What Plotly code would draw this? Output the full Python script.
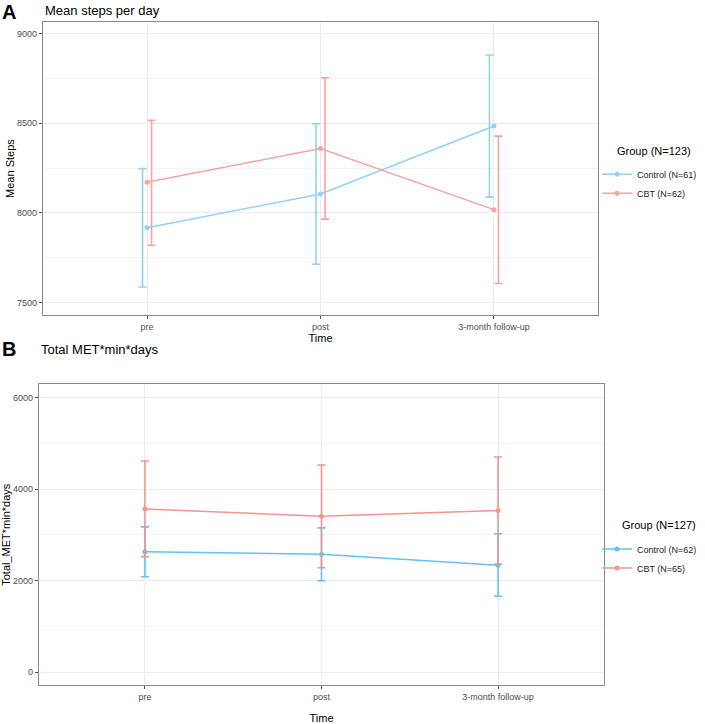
import plotly.graph_objects as go

# shared categories
times = ["pre", "post", "3-month follow-up"]
pos = [1, 2, 3]

# panel A: mean steps per day
steps_control = [7917, 8105, 8485]
steps_control_lo = [7586, 7713, 8088]
steps_control_hi = [8247, 8497, 8881]
steps_cbt = [8171, 8359, 8018]
steps_cbt_lo = [7819, 7965, 7606]
steps_cbt_hi = [8517, 8754, 8428]

# panel B: total MET*min*days
met_control = [2633, 2577, 2338]
met_control_lo = [2085, 1998, 1657]
met_control_hi = [3176, 3154, 3024]
met_cbt = [3566, 3408, 3531]
met_cbt_lo = [2525, 2280, 2360]
met_cbt_hi = [4616, 4529, 4703]

W, H = 705, 724
FONT = "Liberation Sans, Arial, sans-serif"
BLUE_A, RED_A = "#92d2f4", "#f5a4a1"
BLUE_B, RED_B = "#5ec4f0", "#f2948f"


def px_x(v):
    return v / W


def px_y(v):
    return 1 - v / H


def add_group(fig, xa, ya, legend, name, means, lo, hi, color, dodge):
    # error bars (dodged a little in panel A)
    fig.add_trace(go.Scatter(
        x=[p + dodge for p in pos], y=means, mode="markers",
        marker=dict(size=1, color="rgba(0,0,0,0)"),
        error_y=dict(type="data", symmetric=False,
                     array=[h - m for h, m in zip(hi, means)],
                     arrayminus=[m - l for m, l in zip(means, lo)],
                     color=color, thickness=1.6, width=4),
        xaxis=xa, yaxis=ya, showlegend=False, hoverinfo="skip",
    ))
    fig.add_trace(go.Scatter(
        x=pos, y=means, mode="lines+markers", name=name,
        line=dict(color=color, width=1.5),
        marker=dict(color=color, size=5),
        xaxis=xa, yaxis=ya, legend=legend,
    ))


fig = go.Figure()
add_group(fig, "x", "y", "legend", "Control (N=61)",
          steps_control, steps_control_lo, steps_control_hi, BLUE_A, -0.026)
add_group(fig, "x", "y", "legend", "CBT (N=62)",
          steps_cbt, steps_cbt_lo, steps_cbt_hi, RED_A, 0.026)
add_group(fig, "x2", "y2", "legend2", "Control (N=62)",
          met_control, met_control_lo, met_control_hi, BLUE_B, 0)
add_group(fig, "x2", "y2", "legend2", "CBT (N=65)",
          met_cbt, met_cbt_lo, met_cbt_hi, RED_B, 0)

axis_common = dict(
    showline=True, mirror=True, linecolor="#8a8a8a", linewidth=1.2,
    ticks="outside", ticklen=3, tickcolor="#555", tickwidth=1,
    tickfont=dict(size=9, color="#4d4d4d", family=FONT),
    gridcolor="#ebebeb", gridwidth=1, zeroline=False,
    title_font=dict(size=11, color="black", family=FONT),
)

legend_common = dict(
    xanchor="left", yanchor="top", font=dict(size=9, color="#222"),
    bgcolor="rgba(0,0,0,0)", tracegroupgap=0, itemwidth=30,
)

fig.update_layout(
    width=W, height=H,
    margin=dict(l=0, r=0, t=0, b=0),
    plot_bgcolor="white", paper_bgcolor="white",
    font=dict(family=FONT),
    xaxis=dict(axis_common, domain=[px_x(43), px_x(598)], range=[0.4, 3.6],
               tickvals=pos, ticktext=times, anchor="y",
               title=dict(text="Time", standoff=1)),
    yaxis=dict(axis_common, domain=[px_y(318), px_y(22)], range=[7428, 9066],
               tickvals=[7500, 8000, 8500, 9000], anchor="x",
               minor=dict(dtick=250, showgrid=True, gridcolor="#f3f3f3"),
               title=dict(text="Mean Steps", standoff=0)),
    xaxis2=dict(axis_common, domain=[px_x(39), px_x(604)], range=[0.4, 3.6],
                tickvals=pos, ticktext=times, anchor="y2",
                title=dict(text="Time", standoff=14)),
    yaxis2=dict(axis_common, domain=[px_y(690.7), px_y(387.7)], range=[-282, 6289],
                tickvals=[0, 2000, 4000, 6000], anchor="x2",
                minor=dict(dtick=1000, showgrid=True, gridcolor="#f3f3f3"),
                title=dict(text="Total_MET*min*days", standoff=2)),
    legend=dict(legend_common, x=px_x(597), y=px_y(161)),
    legend2=dict(legend_common, x=px_x(597), y=px_y(539)),
)

annotations = [
    dict(text="<b>A</b>", x=0, y=12, size=20),
    dict(text="Mean steps per day", x=43, y=11, size=13),
    dict(text="<b>B</b>", x=0, y=352, size=20),
    dict(text="Total MET*min*days", x=39, y=352, size=13),
    dict(text="Group (N=123)", x=615, y=152, size=11),
    dict(text="Group (N=127)", x=620, y=529, size=11),
]
for a in annotations:
    fig.add_annotation(xref="paper", yref="paper", xanchor="left", yanchor="middle",
                       showarrow=False, text=a["text"], x=px_x(a["x"]), y=px_y(a["y"]),
                       font=dict(size=a["size"], color="black", family=FONT))

# drop the default body margin so the figure sits at the window's top-left
fig.write_html("out.html", config={"displayModeBar": False},
               post_script="document.body.style.margin='0';")
